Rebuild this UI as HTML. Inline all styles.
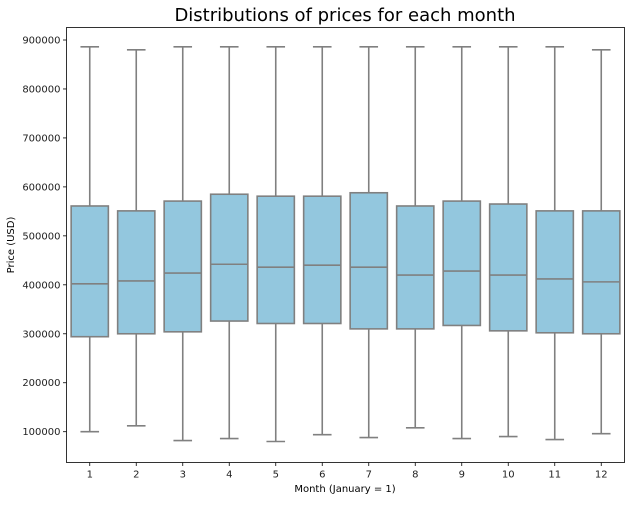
<!DOCTYPE html>
<html><head><meta charset="utf-8"><style>
body{margin:0;background:#fff;font-family:"Liberation Sans","DejaVu Sans",sans-serif}
</style></head><body>
<svg width="634" height="500" xmlns="http://www.w3.org/2000/svg" id="chart" font-family="DejaVu Sans, Liberation Sans, sans-serif">
<text x="345" y="21" font-size="18" text-anchor="middle" fill="#000">Distributions of prices for each month</text>
<text x="345" y="492" font-size="10" text-anchor="middle" fill="#000">Month (January = 1)</text>
<text transform="translate(14,245) rotate(-90)" font-size="10" text-anchor="middle" fill="#000">Price (USD)</text>
</svg>
<script>
const categories=["1","2","3","4","5","6","7","8","9","10","11","12"];
const whiskerHigh=[886000,880000,886000,886000,886000,886000,886000,886000,886000,886000,886000,880000];
const q3=[561000,551000,571000,585000,581000,581000,588000,561000,571000,565000,551000,551000];
const medians=[402000,408000,424000,442000,436000,440000,436000,420000,428000,420000,412000,406000];
const q1=[294000,300000,304000,326000,321000,321000,310000,310000,317000,306000,302000,300000];
const whiskerLow=[100000,112000,82000,86000,80000,94000,88000,108000,86000,90000,84000,96000];
const yTicks=[100000,200000,300000,400000,500000,600000,700000,800000,900000];
const L=66.5,R=624.5,T=27.5,B=462.5;
const y=v=>431.7-(v-100000)*(391.7/800000);
const bw=(R-L)/categories.length;
const x=i=>L+bw*(i+0.5);
const svg=document.getElementById('chart');
const NS="http://www.w3.org/2000/svg";
function mk(t,a){const e=document.createElementNS(NS,t);for(const k in a)e.setAttribute(k,a[k]);svg.appendChild(e);return e;}
yTicks.forEach(v=>{
 const t=mk('line',{x1:L-3.5,x2:L,y1:y(v),y2:y(v),stroke:'#000','stroke-width':0.8});
 
 
 const l=mk('text',{x:L-6,y:y(v)+3.5,'font-size':10,'text-anchor':'end',fill:'#222'});
 l.textContent=v;
 
 
});
categories.forEach((c,i)=>{
 const cx=x(i),w=bw*0.8,cw=w*0.5;
 const g='#808080',sw=1.6;
 const w1=mk('line',{x1:cx,x2:cx,y1:y(whiskerHigh[i]),y2:y(q3[i]),stroke:g,'stroke-width':sw});
 
 
 const w2=mk('line',{x1:cx,x2:cx,y1:y(q1[i]),y2:y(whiskerLow[i]),stroke:g,'stroke-width':sw});
 
 
 const c1=mk('line',{x1:cx-cw/2,x2:cx+cw/2,y1:y(whiskerHigh[i]),y2:y(whiskerHigh[i]),stroke:g,'stroke-width':sw});
 
 
 const c2=mk('line',{x1:cx-cw/2,x2:cx+cw/2,y1:y(whiskerLow[i]),y2:y(whiskerLow[i]),stroke:g,'stroke-width':sw});
 
 
 const b=mk('rect',{x:cx-w/2,y:y(q3[i]),width:w,height:y(q1[i])-y(q3[i]),fill:'#93c7de',stroke:g,'stroke-width':sw});
 
 
 const m=mk('line',{x1:cx-w/2,x2:cx+w/2,y1:y(medians[i]),y2:y(medians[i]),stroke:g,'stroke-width':sw});
 
 
 const t=mk('line',{x1:cx,x2:cx,y1:B,y2:B+3.5,stroke:'#000','stroke-width':0.8});
 
 
 const l=mk('text',{x:cx,y:B+15,'font-size':10,'text-anchor':'middle',fill:'#222'});
 l.textContent=c;
 
 
});
const f=mk('rect',{x:L,y:T,width:R-L,height:B-T,fill:'none',stroke:'#000','stroke-width':0.8});


</script>
</body></html>
